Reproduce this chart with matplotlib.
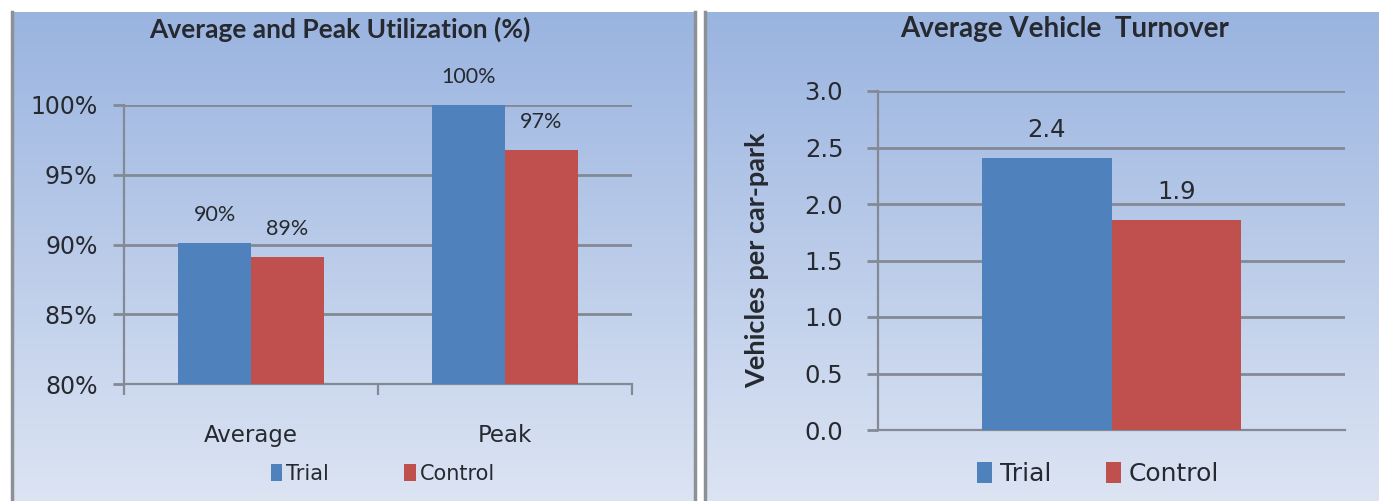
import numpy as np
import matplotlib
matplotlib.use("Agg")
import matplotlib.pyplot as plt
from matplotlib.colors import LinearSegmentedColormap
from matplotlib.lines import Line2D
from matplotlib.ticker import FuncFormatter

# ---------- data ----------
util_categories = ["Average", "Peak"]
util_trial = [90.1, 100.0]
util_control = [89.1, 96.8]
util_trial_labels = ["90%", "100%"]
util_control_labels = ["89%", "97%"]
util_yticks = [80, 85, 90, 95, 100]

turnover_trial = [2.41]
turnover_control = [1.86]
turnover_trial_labels = ["2.4"]
turnover_control_labels = ["1.9"]
turnover_yticks = [0.0, 0.5, 1.0, 1.5, 2.0, 2.5, 3.0]

series_names = ["Trial", "Control"]

# ---------- style ----------
BLUE = "#4F81BD"
RED = "#C0504D"
GRID = "#838A96"
TXT = "#262a30"
W, H = 1379, 501

fig = plt.figure(figsize=(W / 100, H / 100), dpi=100)
fig.patch.set_facecolor("white")

bg_cmap = LinearSegmentedColormap.from_list("bg", ["#9AB4E0", "#DCE4F3"])
grad = np.linspace(0, 1, 256)[:, None]


def px(x0, y0, x1, y1):
    # pixel box (top-left origin) -> figure rect
    return [x0 / W, 1 - y1 / H, (x1 - x0) / W, (y1 - y0) / H]


# gradient panels
for box in [(13, 12, 694, 501), (706, 12, 1379, 501)]:
    bg = fig.add_axes(px(*box), zorder=0)
    bg.imshow(grad, aspect="auto", cmap=bg_cmap, extent=[0, 1, 0, 1])
    bg.axis("off")

# panel borders
for xp in [11.5, 695.5, 704.5]:
    fig.add_artist(Line2D([xp / W, xp / W], [0, 1 - 12 / H],
                          transform=fig.transFigure, color="#8C9196", lw=2.5))


def style_axes(ax):
    ax.set_facecolor("none")
    ax.set_zorder(2)
    for s in ["top", "right"]:
        ax.spines[s].set_visible(False)
    for s in ["left", "bottom"]:
        ax.spines[s].set_color(GRID)
        ax.spines[s].set_linewidth(1.6)
    ax.yaxis.grid(True, color=GRID, lw=2.0)
    ax.set_axisbelow(True)
    ax.tick_params(axis="y", length=8, width=2.0, color=GRID, colors=TXT)


# ========== (1) utilization ==========
ax1 = fig.add_axes(px(124, 105, 632, 384))
style_axes(ax1)
x = np.arange(len(util_categories))
bw = 0.286
b1 = ax1.bar(x - bw / 2, [v - 80 for v in util_trial], bw, bottom=80,
             color=BLUE, zorder=3)
b2 = ax1.bar(x + bw / 2, [v - 80 for v in util_control], bw, bottom=80,
             color=RED, zorder=3)
ax1.set_ylim(80, 100)
ax1.set_xlim(-0.5, 1.5)
ax1.set_yticks(util_yticks)
ax1.yaxis.set_major_formatter(FuncFormatter(lambda v, p: f"{v:.0f}%"))
ax1.tick_params(axis="y", labelsize=17, pad=11)
ax1.set_xticks(x)
ax1.set_xticklabels(util_categories, fontsize=16.5, color=TXT)
ax1.tick_params(axis="x", which="major", length=0, pad=29)
ax1.set_xticks([-0.5, 0.5, 1.5], minor=True)
ax1.tick_params(axis="x", which="minor", length=8, width=1.6, color=GRID)
for xi, v, lab in zip(x - bw / 2, util_trial, util_trial_labels):
    ax1.annotate(lab, (xi, v), xytext=(0, 20), textcoords="offset points",
                 ha="center", va="center", fontsize=15.5, color=TXT,
                 family="Lato")
for xi, v, lab in zip(x + bw / 2, util_control, util_control_labels):
    ax1.annotate(lab, (xi, v), xytext=(0, 20), textcoords="offset points",
                 ha="center", va="center", fontsize=15.5, color=TXT,
                 family="Lato")
ax1.legend([b1, b2], series_names, loc="center", ncol=2, frameon=False,
           bbox_to_anchor=(383 / W, 1 - 474 / H), bbox_transform=fig.transFigure,
           fontsize=15, handlelength=0.55, handleheight=0.9, handletextpad=0.2,
           columnspacing=3.6, labelcolor=TXT)
fig.text(340 / W, 1 - 29 / H, "Average and Peak Utilization (%)",
         ha="center", va="center", fontsize=19, fontweight="bold",
         family="Lato", color=TXT)

# ========== (2) turnover ==========
ax2 = fig.add_axes(px(878, 91, 1345, 430))
style_axes(ax2)
bw2 = 0.278
c1 = ax2.bar([-bw2 / 2], turnover_trial, bw2, color=BLUE, zorder=3)
c2 = ax2.bar([bw2 / 2], turnover_control, bw2, color=RED, zorder=3)
ax2.set_ylim(0, 3.0)
ax2.set_xlim(-0.5, 0.5)
ax2.set_yticks(turnover_yticks)
ax2.yaxis.set_major_formatter(FuncFormatter(lambda v, p: f"{v:.1f}"))
ax2.tick_params(axis="y", labelsize=17.5, pad=17)
ax2.set_xticks([])
for xi, v, lab in zip([-bw2 / 2], turnover_trial, turnover_trial_labels):
    ax2.annotate(lab, (xi, v), xytext=(0, 20), textcoords="offset points",
                 ha="center", va="center", fontsize=17.5, color=TXT)
for xi, v, lab in zip([bw2 / 2], turnover_control, turnover_control_labels):
    ax2.annotate(lab, (xi, v), xytext=(0, 20), textcoords="offset points",
                 ha="center", va="center", fontsize=17.5, color=TXT)
fig.text(757 / W, 1 - 260 / H, "Vehicles per car-park", rotation=90,
         ha="center", va="center", fontsize=19.5, fontweight="bold",
         family="Lato", color=TXT)
ax2.legend([c1, c2], series_names, loc="center", ncol=2, frameon=False,
           bbox_to_anchor=(1098 / W, 1 - 474 / H), bbox_transform=fig.transFigure,
           fontsize=18, handlelength=0.6, handleheight=0.9, handletextpad=0.3,
           columnspacing=2.2, labelcolor=TXT)
fig.text(1065 / W, 1 - 29 / H, "Average Vehicle  Turnover",
         ha="center", va="center", fontsize=20, fontweight="bold",
         family="Lato", color=TXT)

fig.savefig("out.png", dpi=100)
